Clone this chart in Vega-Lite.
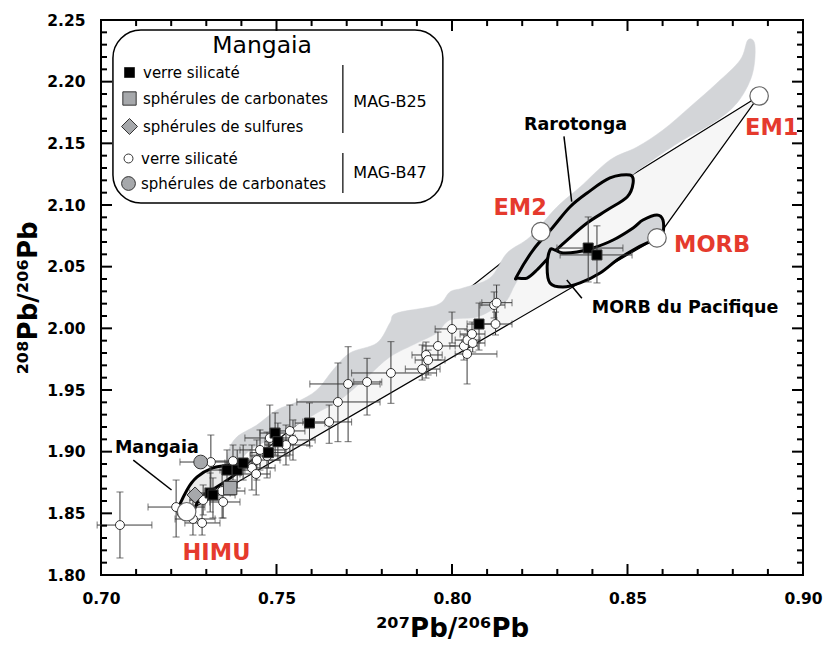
{
  "$schema": "https://vega.github.io/schema/vega-lite/v6.json",
  "width": 702,
  "height": 555,
  "autosize": {"type": "none"},
  "padding": {"left": 101, "top": 20, "right": 23, "bottom": 70},
  "background": "white",
  "config": {
    "view": {"stroke": "black", "strokeWidth": 2},
    "font": "DejaVu Sans",
    "axis": {"domain": false, "grid": false, "ticks": false}
  },
  "datasets": {
    "ticks_x": [
      {"x": 0.75, "y": 1.8, "y2": 1.8089}, {"x": 0.8, "y": 1.8, "y2": 1.8089}, {"x": 0.85, "y": 1.8, "y2": 1.8089},
      {"x": 0.75, "y": 2.25, "y2": 2.2411}, {"x": 0.8, "y": 2.25, "y2": 2.2411}, {"x": 0.85, "y": 2.25, "y2": 2.2411},
      {"x": 0.71, "y": 1.8, "y2": 1.8049}, {"x": 0.72, "y": 1.8, "y2": 1.8049}, {"x": 0.73, "y": 1.8, "y2": 1.8049}, {"x": 0.74, "y": 1.8, "y2": 1.8049},
      {"x": 0.76, "y": 1.8, "y2": 1.8049}, {"x": 0.77, "y": 1.8, "y2": 1.8049}, {"x": 0.78, "y": 1.8, "y2": 1.8049}, {"x": 0.79, "y": 1.8, "y2": 1.8049},
      {"x": 0.81, "y": 1.8, "y2": 1.8049}, {"x": 0.82, "y": 1.8, "y2": 1.8049}, {"x": 0.83, "y": 1.8, "y2": 1.8049}, {"x": 0.84, "y": 1.8, "y2": 1.8049},
      {"x": 0.86, "y": 1.8, "y2": 1.8049}, {"x": 0.87, "y": 1.8, "y2": 1.8049}, {"x": 0.88, "y": 1.8, "y2": 1.8049}, {"x": 0.89, "y": 1.8, "y2": 1.8049},
      {"x": 0.71, "y": 2.25, "y2": 2.2451}, {"x": 0.72, "y": 2.25, "y2": 2.2451}, {"x": 0.73, "y": 2.25, "y2": 2.2451}, {"x": 0.74, "y": 2.25, "y2": 2.2451},
      {"x": 0.76, "y": 2.25, "y2": 2.2451}, {"x": 0.77, "y": 2.25, "y2": 2.2451}, {"x": 0.78, "y": 2.25, "y2": 2.2451}, {"x": 0.79, "y": 2.25, "y2": 2.2451},
      {"x": 0.81, "y": 2.25, "y2": 2.2451}, {"x": 0.82, "y": 2.25, "y2": 2.2451}, {"x": 0.83, "y": 2.25, "y2": 2.2451}, {"x": 0.84, "y": 2.25, "y2": 2.2451},
      {"x": 0.86, "y": 2.25, "y2": 2.2451}, {"x": 0.87, "y": 2.25, "y2": 2.2451}, {"x": 0.88, "y": 2.25, "y2": 2.2451}, {"x": 0.89, "y": 2.25, "y2": 2.2451}
    ],
    "ticks_y": [
      {"y": 1.85, "x": 0.7, "x2": 0.70313}, {"y": 1.9, "x": 0.7, "x2": 0.70313}, {"y": 1.95, "x": 0.7, "x2": 0.70313}, {"y": 2.0, "x": 0.7, "x2": 0.70313},
      {"y": 2.05, "x": 0.7, "x2": 0.70313}, {"y": 2.1, "x": 0.7, "x2": 0.70313}, {"y": 2.15, "x": 0.7, "x2": 0.70313}, {"y": 2.2, "x": 0.7, "x2": 0.70313},
      {"y": 1.85, "x": 0.9, "x2": 0.89687}, {"y": 1.9, "x": 0.9, "x2": 0.89687}, {"y": 1.95, "x": 0.9, "x2": 0.89687}, {"y": 2.0, "x": 0.9, "x2": 0.89687},
      {"y": 2.05, "x": 0.9, "x2": 0.89687}, {"y": 2.1, "x": 0.9, "x2": 0.89687}, {"y": 2.15, "x": 0.9, "x2": 0.89687}, {"y": 2.2, "x": 0.9, "x2": 0.89687},
      {"y": 1.81, "x": 0.7, "x2": 0.70171}, {"y": 1.82, "x": 0.7, "x2": 0.70171}, {"y": 1.83, "x": 0.7, "x2": 0.70171}, {"y": 1.84, "x": 0.7, "x2": 0.70171},
      {"y": 1.86, "x": 0.7, "x2": 0.70171}, {"y": 1.87, "x": 0.7, "x2": 0.70171}, {"y": 1.88, "x": 0.7, "x2": 0.70171}, {"y": 1.89, "x": 0.7, "x2": 0.70171},
      {"y": 1.91, "x": 0.7, "x2": 0.70171}, {"y": 1.92, "x": 0.7, "x2": 0.70171}, {"y": 1.93, "x": 0.7, "x2": 0.70171}, {"y": 1.94, "x": 0.7, "x2": 0.70171},
      {"y": 1.96, "x": 0.7, "x2": 0.70171}, {"y": 1.97, "x": 0.7, "x2": 0.70171}, {"y": 1.98, "x": 0.7, "x2": 0.70171}, {"y": 1.99, "x": 0.7, "x2": 0.70171},
      {"y": 2.01, "x": 0.7, "x2": 0.70171}, {"y": 2.02, "x": 0.7, "x2": 0.70171}, {"y": 2.03, "x": 0.7, "x2": 0.70171}, {"y": 2.04, "x": 0.7, "x2": 0.70171},
      {"y": 2.06, "x": 0.7, "x2": 0.70171}, {"y": 2.07, "x": 0.7, "x2": 0.70171}, {"y": 2.08, "x": 0.7, "x2": 0.70171}, {"y": 2.09, "x": 0.7, "x2": 0.70171},
      {"y": 2.11, "x": 0.7, "x2": 0.70171}, {"y": 2.12, "x": 0.7, "x2": 0.70171}, {"y": 2.13, "x": 0.7, "x2": 0.70171}, {"y": 2.14, "x": 0.7, "x2": 0.70171},
      {"y": 2.16, "x": 0.7, "x2": 0.70171}, {"y": 2.17, "x": 0.7, "x2": 0.70171}, {"y": 2.18, "x": 0.7, "x2": 0.70171}, {"y": 2.19, "x": 0.7, "x2": 0.70171},
      {"y": 2.21, "x": 0.7, "x2": 0.70171}, {"y": 2.22, "x": 0.7, "x2": 0.70171}, {"y": 2.23, "x": 0.7, "x2": 0.70171}, {"y": 2.24, "x": 0.7, "x2": 0.70171},
      {"y": 1.81, "x": 0.9, "x2": 0.89829}, {"y": 1.82, "x": 0.9, "x2": 0.89829}, {"y": 1.83, "x": 0.9, "x2": 0.89829}, {"y": 1.84, "x": 0.9, "x2": 0.89829},
      {"y": 1.86, "x": 0.9, "x2": 0.89829}, {"y": 1.87, "x": 0.9, "x2": 0.89829}, {"y": 1.88, "x": 0.9, "x2": 0.89829}, {"y": 1.89, "x": 0.9, "x2": 0.89829},
      {"y": 1.91, "x": 0.9, "x2": 0.89829}, {"y": 1.92, "x": 0.9, "x2": 0.89829}, {"y": 1.93, "x": 0.9, "x2": 0.89829}, {"y": 1.94, "x": 0.9, "x2": 0.89829},
      {"y": 1.96, "x": 0.9, "x2": 0.89829}, {"y": 1.97, "x": 0.9, "x2": 0.89829}, {"y": 1.98, "x": 0.9, "x2": 0.89829}, {"y": 1.99, "x": 0.9, "x2": 0.89829},
      {"y": 2.01, "x": 0.9, "x2": 0.89829}, {"y": 2.02, "x": 0.9, "x2": 0.89829}, {"y": 2.03, "x": 0.9, "x2": 0.89829}, {"y": 2.04, "x": 0.9, "x2": 0.89829},
      {"y": 2.06, "x": 0.9, "x2": 0.89829}, {"y": 2.07, "x": 0.9, "x2": 0.89829}, {"y": 2.08, "x": 0.9, "x2": 0.89829}, {"y": 2.09, "x": 0.9, "x2": 0.89829},
      {"y": 2.11, "x": 0.9, "x2": 0.89829}, {"y": 2.12, "x": 0.9, "x2": 0.89829}, {"y": 2.13, "x": 0.9, "x2": 0.89829}, {"y": 2.14, "x": 0.9, "x2": 0.89829},
      {"y": 2.16, "x": 0.9, "x2": 0.89829}, {"y": 2.17, "x": 0.9, "x2": 0.89829}, {"y": 2.18, "x": 0.9, "x2": 0.89829}, {"y": 2.19, "x": 0.9, "x2": 0.89829},
      {"y": 2.21, "x": 0.9, "x2": 0.89829}, {"y": 2.22, "x": 0.9, "x2": 0.89829}, {"y": 2.23, "x": 0.9, "x2": 0.89829}, {"y": 2.24, "x": 0.9, "x2": 0.89829}
    ],
    "triangle": [
      {"i": 1, "x": 0.7244, "y": 1.8513},
      {"i": 2, "x": 0.8253, "y": 2.0784},
      {"i": 3, "x": 0.8875, "y": 2.1884},
      {"i": 4, "x": 0.8584, "y": 2.0733}
    ],
    "bande": [
      {"i": 1, "x": 0.7362, "y": 1.8997}, {"i": 2, "x": 0.7387, "y": 1.9119}, {"i": 3, "x": 0.7444, "y": 1.9216},
      {"i": 4, "x": 0.7501, "y": 1.9338}, {"i": 5, "x": 0.7558, "y": 1.9403}, {"i": 6, "x": 0.7615, "y": 1.95},
      {"i": 7, "x": 0.7661, "y": 1.9662}, {"i": 8, "x": 0.7709, "y": 1.98}, {"i": 9, "x": 0.7786, "y": 1.9881},
      {"i": 10, "x": 0.7823, "y": 2.0043}, {"i": 11, "x": 0.7843, "y": 2.0124}, {"i": 12, "x": 0.7957, "y": 2.0189},
      {"i": 13, "x": 0.7994, "y": 2.0295}, {"i": 14, "x": 0.8031, "y": 2.0327}, {"i": 15, "x": 0.8108, "y": 2.0408},
      {"i": 16, "x": 0.8157, "y": 2.0611}, {"i": 17, "x": 0.8222, "y": 2.0741}, {"i": 18, "x": 0.8299, "y": 2.0984},
      {"i": 19, "x": 0.8365, "y": 2.1146}, {"i": 20, "x": 0.845, "y": 2.1365}, {"i": 21, "x": 0.8527, "y": 2.147},
      {"i": 22, "x": 0.8601, "y": 2.1608}, {"i": 23, "x": 0.8678, "y": 2.1795}, {"i": 24, "x": 0.8755, "y": 2.1989},
      {"i": 25, "x": 0.8821, "y": 2.2176}, {"i": 26, "x": 0.8843, "y": 2.2338}, {"i": 27, "x": 0.8863, "y": 2.2297},
      {"i": 28, "x": 0.8855, "y": 2.2054}, {"i": 29, "x": 0.8812, "y": 2.1827}, {"i": 30, "x": 0.8744, "y": 2.1665},
      {"i": 31, "x": 0.8658, "y": 2.1527}, {"i": 32, "x": 0.8564, "y": 2.1349}, {"i": 33, "x": 0.8507, "y": 2.1219},
      {"i": 34, "x": 0.8479, "y": 2.1041}, {"i": 35, "x": 0.8393, "y": 2.0862}, {"i": 36, "x": 0.8322, "y": 2.0716},
      {"i": 37, "x": 0.8265, "y": 2.0595}, {"i": 38, "x": 0.8208, "y": 2.0473}, {"i": 39, "x": 0.8179, "y": 2.0351},
      {"i": 40, "x": 0.8157, "y": 2.023}, {"i": 41, "x": 0.8128, "y": 2.0173}, {"i": 42, "x": 0.8071, "y": 2.0092},
      {"i": 43, "x": 0.7994, "y": 2.0068}, {"i": 44, "x": 0.7957, "y": 1.9962}, {"i": 45, "x": 0.79, "y": 1.9881},
      {"i": 46, "x": 0.7823, "y": 1.9768}, {"i": 47, "x": 0.7758, "y": 1.9605}, {"i": 48, "x": 0.7681, "y": 1.9419},
      {"i": 49, "x": 0.7615, "y": 1.9314}, {"i": 50, "x": 0.7519, "y": 1.9151}, {"i": 51, "x": 0.7425, "y": 1.9014},
      {"i": 52, "x": 0.7387, "y": 1.8876}, {"i": 53, "x": 0.7362, "y": 1.8851}
    ],
    "rarotonga": [
      {"i": 1, "x": 0.8184, "y": 2.0419}, {"i": 2, "x": 0.8231, "y": 2.0635}, {"i": 3, "x": 0.8288, "y": 2.0822},
      {"i": 4, "x": 0.8336, "y": 2.0984}, {"i": 5, "x": 0.8385, "y": 2.1097}, {"i": 6, "x": 0.845, "y": 2.1219},
      {"i": 7, "x": 0.8507, "y": 2.1243}, {"i": 8, "x": 0.8516, "y": 2.1178}, {"i": 9, "x": 0.8499, "y": 2.1065},
      {"i": 10, "x": 0.8442, "y": 2.0959}, {"i": 11, "x": 0.8385, "y": 2.0854}, {"i": 12, "x": 0.8328, "y": 2.0716},
      {"i": 13, "x": 0.8288, "y": 2.0611}, {"i": 14, "x": 0.8242, "y": 2.0473}, {"i": 15, "x": 0.8214, "y": 2.0408},
      {"i": 16, "x": 0.8188, "y": 2.0408}
    ],
    "morb_pacifique": [
      {"i": 1, "x": 0.8279, "y": 2.0635}, {"i": 2, "x": 0.8271, "y": 2.0497}, {"i": 3, "x": 0.8279, "y": 2.0368},
      {"i": 4, "x": 0.8316, "y": 2.0335}, {"i": 5, "x": 0.8365, "y": 2.0368}, {"i": 6, "x": 0.8422, "y": 2.0449},
      {"i": 7, "x": 0.847, "y": 2.0554}, {"i": 8, "x": 0.8516, "y": 2.0635}, {"i": 9, "x": 0.8556, "y": 2.0692},
      {"i": 10, "x": 0.8584, "y": 2.0716}, {"i": 11, "x": 0.8601, "y": 2.0773}, {"i": 12, "x": 0.8601, "y": 2.0878},
      {"i": 13, "x": 0.8584, "y": 2.0919}, {"i": 14, "x": 0.8544, "y": 2.0878}, {"i": 15, "x": 0.8516, "y": 2.0814},
      {"i": 16, "x": 0.8459, "y": 2.0716}, {"i": 17, "x": 0.8402, "y": 2.0651}, {"i": 18, "x": 0.8356, "y": 2.0619},
      {"i": 19, "x": 0.8316, "y": 2.0611}, {"i": 20, "x": 0.8293, "y": 2.0635}
    ],
    "mangaia": [
      {"i": 1, "x": 0.7219, "y": 1.8511}, {"i": 2, "x": 0.7245, "y": 1.8689}, {"i": 3, "x": 0.7274, "y": 1.8795},
      {"i": 4, "x": 0.7319, "y": 1.8868}, {"i": 5, "x": 0.7368, "y": 1.8892}, {"i": 6, "x": 0.7405, "y": 1.8916},
      {"i": 7, "x": 0.7387, "y": 1.8827}, {"i": 8, "x": 0.733, "y": 1.8714}, {"i": 9, "x": 0.7282, "y": 1.8624},
      {"i": 10, "x": 0.7262, "y": 1.8503}, {"i": 11, "x": 0.7245, "y": 1.847}
    ],
    "traits": [
      {"x": 0.8319, "y": 2.1557, "x2": 0.8341, "y2": 2.1027},
      {"x": 0.8327, "y": 2.0392, "x2": 0.837, "y2": 2.0244},
      {"x": 0.7092, "y": 1.8932, "x2": 0.7201, "y2": 1.8689}
    ],
    "encadre": [
      {"x": 0.7034, "x2": 0.7974, "y": 2.2419, "y2": 2.1016}
    ],
    "accolades": [
      {"x": 0.7689, "y": 2.2135, "y2": 2.1584},
      {"x": 0.7689, "y": 2.1422, "y2": 2.1097}
    ],
    "titre_legende": [
      {"texte": "Mangaia", "x": 0.7459, "y": 2.223}
    ],
    "echantillons": [
      {"texte": "MAG-B25", "x": 0.7719, "y": 2.1797},
      {"texte": "MAG-B47", "x": 0.7719, "y": 2.1217}
    ],
    "mesures": [
      {"groupe": "MAG-B47", "type": "verre silicaté", "x": 0.7054, "y": 1.8405, "xmin": 0.6989, "xmax": 0.7145, "ymin": 1.8138, "ymax": 1.8673},
      {"groupe": "MAG-B47", "type": "verre silicaté", "x": 0.7214, "y": 1.8551, "xmin": 0.7134, "xmax": 0.7296, "ymin": 1.8308, "ymax": 1.877},
      {"groupe": "MAG-B47", "type": "verre silicaté", "x": 0.7262, "y": 1.8454, "xmin": 0.7211, "xmax": 0.7325, "ymin": 1.8324, "ymax": 1.8608},
      {"groupe": "MAG-B47", "type": "verre silicaté", "x": 0.7288, "y": 1.8422, "xmin": 0.7239, "xmax": 0.7339, "ymin": 1.8324, "ymax": 1.8568},
      {"groupe": "MAG-B47", "type": "verre silicaté", "x": 0.7313, "y": 1.8916, "xmin": 0.7225, "xmax": 0.7396, "ymin": 1.8689, "ymax": 1.9135},
      {"groupe": "MAG-B47", "type": "verre silicaté", "x": 0.7345, "y": 1.8681, "xmin": 0.7296, "xmax": 0.741, "ymin": 1.8462, "ymax": 1.8851},
      {"groupe": "MAG-B47", "type": "verre silicaté", "x": 0.7376, "y": 1.8924, "xmin": 0.731, "xmax": 0.7439, "ymin": 1.877, "ymax": 1.9054},
      {"groupe": "MAG-B47", "type": "verre silicaté", "x": 0.743, "y": 1.8868, "xmin": 0.7368, "xmax": 0.7496, "ymin": 1.8689, "ymax": 1.9054},
      {"groupe": "MAG-B47", "type": "verre silicaté", "x": 0.7442, "y": 1.8819, "xmin": 0.7396, "xmax": 0.7482, "ymin": 1.8649, "ymax": 1.8973},
      {"groupe": "MAG-B47", "type": "verre silicaté", "x": 0.7444, "y": 1.8932, "xmin": 0.7382, "xmax": 0.751, "ymin": 1.877, "ymax": 1.9095},
      {"groupe": "MAG-B47", "type": "verre silicaté", "x": 0.7453, "y": 1.9014, "xmin": 0.7396, "xmax": 0.7524, "ymin": 1.8851, "ymax": 1.9176},
      {"groupe": "MAG-B47", "type": "verre silicaté", "x": 0.7473, "y": 1.8965, "xmin": 0.7425, "xmax": 0.7538, "ymin": 1.8787, "ymax": 1.9159},
      {"groupe": "MAG-B47", "type": "verre silicaté", "x": 0.7481, "y": 1.9111, "xmin": 0.741, "xmax": 0.7553, "ymin": 1.8932, "ymax": 1.9378},
      {"groupe": "MAG-B47", "type": "verre silicaté", "x": 0.7527, "y": 1.9054, "xmin": 0.7467, "xmax": 0.7595, "ymin": 1.8892, "ymax": 1.9216},
      {"groupe": "MAG-B47", "type": "verre silicaté", "x": 0.7538, "y": 1.9168, "xmin": 0.7496, "xmax": 0.7581, "ymin": 1.8973, "ymax": 1.9378},
      {"groupe": "MAG-B47", "type": "verre silicaté", "x": 0.7547, "y": 1.9095, "xmin": 0.7496, "xmax": 0.761, "ymin": 1.8932, "ymax": 1.9257},
      {"groupe": "MAG-B47", "type": "verre silicaté", "x": 0.765, "y": 1.9241, "xmin": 0.7575, "xmax": 0.7714, "ymin": 1.9068, "ymax": 1.9378},
      {"groupe": "MAG-B47", "type": "verre silicaté", "x": 0.7675, "y": 1.9403, "xmin": 0.7558, "xmax": 0.7795, "ymin": 1.9081, "ymax": 1.9719},
      {"groupe": "MAG-B47", "type": "verre silicaté", "x": 0.7704, "y": 1.9549, "xmin": 0.7595, "xmax": 0.7795, "ymin": 1.9081, "ymax": 1.9851},
      {"groupe": "MAG-B47", "type": "verre silicaté", "x": 0.7758, "y": 1.9565, "xmin": 0.772, "xmax": 0.78, "ymin": 1.9297, "ymax": 1.9757},
      {"groupe": "MAG-B47", "type": "verre silicaté", "x": 0.7826, "y": 1.9638, "xmin": 0.7714, "xmax": 0.7956, "ymin": 1.9392, "ymax": 1.9892},
      {"groupe": "MAG-B47", "type": "verre silicaté", "x": 0.7915, "y": 1.967, "xmin": 0.7867, "xmax": 0.7966, "ymin": 1.9581, "ymax": 1.9865},
      {"groupe": "MAG-B47", "type": "verre silicaté", "x": 0.7926, "y": 1.9784, "xmin": 0.7886, "xmax": 0.7972, "ymin": 1.9597, "ymax": 1.9889},
      {"groupe": "MAG-B47", "type": "verre silicaté", "x": 0.7932, "y": 1.9743, "xmin": 0.7895, "xmax": 0.798, "ymin": 1.9622, "ymax": 1.9824},
      {"groupe": "MAG-B47", "type": "verre silicaté", "x": 0.796, "y": 1.9857, "xmin": 0.7917, "xmax": 0.8009, "ymin": 1.9743, "ymax": 1.997},
      {"groupe": "MAG-B47", "type": "verre silicaté", "x": 0.8, "y": 1.9995, "xmin": 0.7952, "xmax": 0.8043, "ymin": 1.9881, "ymax": 2.0132},
      {"groupe": "MAG-B47", "type": "verre silicaté", "x": 0.8034, "y": 1.9857, "xmin": 0.7994, "xmax": 0.8074, "ymin": 1.9743, "ymax": 1.9946},
      {"groupe": "MAG-B47", "type": "verre silicaté", "x": 0.8043, "y": 1.9792, "xmin": 0.8009, "xmax": 0.8128, "ymin": 1.9549, "ymax": 1.9905},
      {"groupe": "MAG-B47", "type": "verre silicaté", "x": 0.8044, "y": 1.9905, "xmin": 0.8009, "xmax": 0.808, "ymin": 1.9824, "ymax": 1.9987},
      {"groupe": "MAG-B47", "type": "verre silicaté", "x": 0.8057, "y": 1.9954, "xmin": 0.8023, "xmax": 0.8094, "ymin": 1.9865, "ymax": 2.0051},
      {"groupe": "MAG-B47", "type": "verre silicaté", "x": 0.8059, "y": 1.9881, "xmin": 0.8028, "xmax": 0.8094, "ymin": 1.9808, "ymax": 1.9946},
      {"groupe": "MAG-B47", "type": "verre silicaté", "x": 0.8124, "y": 2.0035, "xmin": 0.8088, "xmax": 0.8171, "ymin": 1.9946, "ymax": 2.0132},
      {"groupe": "MAG-B47", "type": "verre silicaté", "x": 0.812, "y": 2.0189, "xmin": 0.808, "xmax": 0.8151, "ymin": 2.0084, "ymax": 2.0295},
      {"groupe": "MAG-B47", "type": "verre silicaté", "x": 0.8127, "y": 2.0208, "xmin": 0.8085, "xmax": 0.8171, "ymin": 2.0051, "ymax": 2.0351},
      {"groupe": "MAG-B47", "type": "verre silicaté", "x": 0.7348, "y": 1.8592, "xmin": 0.731, "xmax": 0.7396, "ymin": 1.8462, "ymax": 1.8705},
      {"groupe": "MAG-B47", "type": "verre silicaté", "x": 0.7291, "y": 1.8608, "xmin": 0.7253, "xmax": 0.7339, "ymin": 1.8487, "ymax": 1.873},
      {"groupe": "MAG-B47", "type": "sphérules de carbonates", "x": 0.7284, "y": 1.8916},
      {"groupe": "MAG-B25", "type": "verre silicaté", "x": 0.7311, "y": 1.8665, "xmin": 0.7253, "xmax": 0.7368, "ymin": 1.8511, "ymax": 1.8827},
      {"groupe": "MAG-B25", "type": "verre silicaté", "x": 0.7319, "y": 1.8649, "xmin": 0.7268, "xmax": 0.7382, "ymin": 1.8462, "ymax": 1.8787},
      {"groupe": "MAG-B25", "type": "verre silicaté", "x": 0.7359, "y": 1.8851, "xmin": 0.731, "xmax": 0.741, "ymin": 1.8689, "ymax": 1.9014},
      {"groupe": "MAG-B25", "type": "verre silicaté", "x": 0.7388, "y": 1.8851, "xmin": 0.7339, "xmax": 0.7439, "ymin": 1.8705, "ymax": 1.9014},
      {"groupe": "MAG-B25", "type": "verre silicaté", "x": 0.7405, "y": 1.8908, "xmin": 0.7353, "xmax": 0.7453, "ymin": 1.877, "ymax": 1.9054},
      {"groupe": "MAG-B25", "type": "verre silicaté", "x": 0.7477, "y": 1.8992, "xmin": 0.7425, "xmax": 0.7524, "ymin": 1.8868, "ymax": 1.9119},
      {"groupe": "MAG-B25", "type": "verre silicaté", "x": 0.7496, "y": 1.9151, "xmin": 0.7453, "xmax": 0.7538, "ymin": 1.8973, "ymax": 1.9314},
      {"groupe": "MAG-B25", "type": "verre silicaté", "x": 0.7504, "y": 1.9081, "xmin": 0.7467, "xmax": 0.7553, "ymin": 1.8932, "ymax": 1.9232},
      {"groupe": "MAG-B25", "type": "verre silicaté", "x": 0.7594, "y": 1.9232, "xmin": 0.7553, "xmax": 0.7638, "ymin": 1.9046, "ymax": 1.9395},
      {"groupe": "MAG-B25", "type": "verre silicaté", "x": 0.8077, "y": 2.0035, "xmin": 0.8043, "xmax": 0.8128, "ymin": 1.9824, "ymax": 2.0205},
      {"groupe": "MAG-B25", "type": "verre silicaté", "x": 0.8388, "y": 2.0651, "xmin": 0.8299, "xmax": 0.8487, "ymin": 2.0376, "ymax": 2.0903},
      {"groupe": "MAG-B25", "type": "verre silicaté", "x": 0.8413, "y": 2.0595, "xmin": 0.8308, "xmax": 0.8513, "ymin": 2.0368, "ymax": 2.0831},
      {"groupe": "MAG-B25", "type": "sphérules de carbonates", "x": 0.7368, "y": 1.8705},
      {"groupe": "MAG-B25", "type": "sphérules de sulfures", "x": 0.7268, "y": 1.8649}
    ],
    "poles": [
      {"nom": "HIMU", "x": 0.7244, "y": 1.8513},
      {"nom": "EM2", "x": 0.8253, "y": 2.0784},
      {"nom": "EM1", "x": 0.8875, "y": 2.1884},
      {"nom": "MORB", "x": 0.8584, "y": 2.0733}
    ],
    "noms_poles": [
      {"nom": "HIMU", "x": 0.7329, "y": 1.8122},
      {"nom": "EM2", "x": 0.8194, "y": 2.0919},
      {"nom": "EM1", "x": 0.8911, "y": 2.1568},
      {"nom": "MORB", "x": 0.8741, "y": 2.0617}
    ],
    "noms_champs": [
      {"nom": "Rarotonga", "x": 0.8352, "y": 2.1608},
      {"nom": "MORB du Pacifique", "x": 0.8664, "y": 2.0122},
      {"nom": "Mangaia", "x": 0.7159, "y": 1.8987}
    ]
  },
  "encoding": {
    "x": {"field": "x", "type": "quantitative", "scale": {"domain": [0.7, 0.9], "nice": false, "zero": false}, "axis": null},
    "y": {"field": "y", "type": "quantitative", "scale": {"domain": [1.8, 2.25], "nice": false, "zero": false}, "axis": null}
  },
  "layer": [
    {
      "data": {"name": "triangle"},
      "mark": {"type": "line", "interpolate": "linear-closed", "fill": "#f6f6f6", "stroke": "black", "strokeWidth": 1.2},
      "encoding": {
        "order": {"field": "i", "type": "quantitative"},
        "x": {"field": "x", "type": "quantitative", "scale": {"domain": [0.7, 0.9], "nice": false, "zero": false},
          "axis": {"orient": "bottom", "values": [0.7, 0.75, 0.8, 0.85, 0.9], "format": ".2f", "domain": false, "ticks": false, "grid": false,
            "labelFont": "DejaVu Sans", "labelFontWeight": "bold",
            "labelFontSize": 15.5, "labelColor": "black", "labelPadding": 16, "labelFlush": false, "labelOverlap": false,
            "title": "²⁰⁷Pb/²⁰⁶Pb", "titleFont": "DejaVu Sans", "titleFontWeight": "bold", "titleFontSize": 26, "titleColor": "black", "titlePadding": 9}},
        "y": {"field": "y", "type": "quantitative", "scale": {"domain": [1.8, 2.25], "nice": false, "zero": false},
          "axis": {"orient": "left", "values": [1.8, 1.85, 1.9, 1.95, 2.0, 2.05, 2.1, 2.15, 2.2, 2.25], "format": ".2f", "domain": false, "ticks": false, "grid": false,
            "labelFont": "DejaVu Sans", "labelFontWeight": "bold",
            "labelFontSize": 15.5, "labelColor": "black", "labelPadding": 16, "labelFlush": false, "labelOverlap": false,
            "title": "²⁰⁸Pb/²⁰⁶Pb", "titleFont": "DejaVu Sans", "titleFontWeight": "bold", "titleFontSize": 26, "titleColor": "black", "titlePadding": 5}}
      }
    },
    {
      "data": {"name": "bande"},
      "mark": {"type": "line", "interpolate": "cardinal-closed", "fill": "#d3d5d8", "stroke": "#d3d5d8", "strokeWidth": 0.5},
      "encoding": {"order": {"field": "i", "type": "quantitative"}}
    },
    {
      "data": {"name": "rarotonga"},
      "mark": {"type": "line", "interpolate": "cardinal-closed", "fill": "#d3d5d8", "stroke": "black", "strokeWidth": 3},
      "encoding": {"order": {"field": "i", "type": "quantitative"}}
    },
    {
      "data": {"name": "morb_pacifique"},
      "mark": {"type": "line", "interpolate": "cardinal-closed", "fill": "#d3d5d8", "stroke": "black", "strokeWidth": 3},
      "encoding": {"order": {"field": "i", "type": "quantitative"}}
    },
    {
      "data": {"name": "mangaia"},
      "mark": {"type": "line", "interpolate": "cardinal-closed", "fill": "#ebebeb", "stroke": "black", "strokeWidth": 3},
      "encoding": {"order": {"field": "i", "type": "quantitative"}}
    },
    {
      "data": {"name": "traits"},
      "mark": {"type": "rule", "color": "black", "strokeWidth": 1.5},
      "encoding": {"x2": {"field": "x2"}, "y2": {"field": "y2"}}
    },
    {
      "data": {"name": "mesures"},
      "transform": [{"filter": "isValid(datum.xmin)"}],
      "mark": {"type": "rule", "color": "#3a3a3a", "strokeWidth": 1},
      "encoding": {
        "x": {"field": "xmin", "type": "quantitative", "scale": {"domain": [0.7, 0.9], "nice": false, "zero": false}, "axis": null},
        "x2": {"field": "xmax"}
      }
    },
    {
      "data": {"name": "mesures"},
      "transform": [{"filter": "isValid(datum.ymin)"}],
      "mark": {"type": "rule", "color": "#3a3a3a", "strokeWidth": 1},
      "encoding": {
        "y": {"field": "ymin", "type": "quantitative", "scale": {"domain": [1.8, 2.25], "nice": false, "zero": false}, "axis": null},
        "y2": {"field": "ymax"}
      }
    },
    {
      "data": {"name": "mesures"},
      "transform": [{"filter": "isValid(datum.xmin)"}],
      "mark": {"type": "tick", "orient": "vertical", "color": "#3a3a3a", "size": 7, "thickness": 1},
      "encoding": {"x": {"field": "xmin", "type": "quantitative", "scale": {"domain": [0.7, 0.9], "nice": false, "zero": false}, "axis": null}}
    },
    {
      "data": {"name": "mesures"},
      "transform": [{"filter": "isValid(datum.xmax)"}],
      "mark": {"type": "tick", "orient": "vertical", "color": "#3a3a3a", "size": 7, "thickness": 1},
      "encoding": {"x": {"field": "xmax", "type": "quantitative", "scale": {"domain": [0.7, 0.9], "nice": false, "zero": false}, "axis": null}}
    },
    {
      "data": {"name": "mesures"},
      "transform": [{"filter": "isValid(datum.ymin)"}],
      "mark": {"type": "tick", "orient": "horizontal", "color": "#3a3a3a", "size": 7, "thickness": 1},
      "encoding": {"y": {"field": "ymin", "type": "quantitative", "scale": {"domain": [1.8, 2.25], "nice": false, "zero": false}, "axis": null}}
    },
    {
      "data": {"name": "mesures"},
      "transform": [{"filter": "isValid(datum.ymax)"}],
      "mark": {"type": "tick", "orient": "horizontal", "color": "#3a3a3a", "size": 7, "thickness": 1},
      "encoding": {"y": {"field": "ymax", "type": "quantitative", "scale": {"domain": [1.8, 2.25], "nice": false, "zero": false}, "axis": null}}
    },
    {
      "data": {"name": "encadre"},
      "mark": {"type": "rect", "fill": "white", "stroke": "black", "strokeWidth": 1.5, "cornerRadius": 28},
      "encoding": {"x2": {"field": "x2"}, "y2": {"field": "y2"}}
    },
    {
      "data": {"name": "accolades"},
      "mark": {"type": "rule", "color": "#333333", "strokeWidth": 1.5},
      "encoding": {"y2": {"field": "y2"}}
    },
    {
      "data": {"name": "titre_legende"},
      "mark": {"type": "text", "font": "DejaVu Sans", "fontSize": 23.5, "color": "black", "align": "center", "baseline": "alphabetic"},
      "encoding": {"text": {"field": "texte"}}
    },
    {
      "data": {"name": "echantillons"},
      "mark": {"type": "text", "font": "DejaVu Sans", "fontSize": 16, "color": "black", "align": "left", "baseline": "alphabetic"},
      "encoding": {"text": {"field": "texte"}}
    },
    {
      "data": {"name": "mesures"},
      "transform": [{"filter": "datum.groupe == 'MAG-B47'"}],
      "mark": {"type": "point", "filled": true, "stroke": "#333333", "strokeWidth": 1, "opacity": 1},
      "encoding": {
        "shape": {"field": "type", "type": "nominal", "scale": {"domain": ["verre silicaté", "sphérules de carbonates"], "range": ["circle", "circle"]},
          "legend": {"orient": "none", "legendX": 20, "legendY": 131, "title": null, "padding": 0, "labelFont": "DejaVu Sans", "labelFontSize": 15, "labelColor": "black", "labelLimit": 400, "rowPadding": 7, "labelOffset": 5, "symbolStrokeColor": "#333333", "symbolStrokeWidth": 1}},
        "color": {"field": "type", "type": "nominal", "scale": {"domain": ["verre silicaté", "sphérules de carbonates"], "range": ["#ffffff", "#a6a8ab"]},
          "legend": {"orient": "none", "legendX": 20, "legendY": 131, "title": null, "padding": 0, "labelFont": "DejaVu Sans", "labelFontSize": 15, "labelColor": "black", "labelLimit": 400, "rowPadding": 7, "labelOffset": 5, "symbolStrokeColor": "#333333", "symbolStrokeWidth": 1}},
        "size": {"field": "type", "type": "nominal", "scale": {"domain": ["verre silicaté", "sphérules de carbonates"], "range": [80, 190]},
          "legend": {"orient": "none", "legendX": 20, "legendY": 131, "title": null, "padding": 0, "labelFont": "DejaVu Sans", "labelFontSize": 15, "labelColor": "black", "labelLimit": 400, "rowPadding": 7, "labelOffset": 5, "symbolStrokeColor": "#333333", "symbolStrokeWidth": 1}}
      }
    },
    {
      "data": {"name": "mesures"},
      "transform": [{"filter": "datum.groupe == 'MAG-B25'"}],
      "mark": {"type": "point", "filled": true, "stroke": "#333333", "strokeWidth": 1, "opacity": 1},
      "encoding": {
        "shape": {"field": "type", "type": "nominal", "scale": {"domain": ["verre silicaté", "sphérules de carbonates", "sphérules de sulfures"], "range": ["square", "square", "diamond"]},
          "legend": {"orient": "none", "legendX": 20, "legendY": 45, "title": null, "padding": 0, "labelFont": "DejaVu Sans", "labelFontSize": 15, "labelColor": "black", "labelLimit": 400, "rowPadding": 8, "labelOffset": 5, "symbolStrokeColor": "#333333", "symbolStrokeWidth": 1}},
        "color": {"field": "type", "type": "nominal", "scale": {"domain": ["verre silicaté", "sphérules de carbonates", "sphérules de sulfures"], "range": ["#000000", "#a6a8ab", "#a6a8ab"]},
          "legend": {"orient": "none", "legendX": 20, "legendY": 45, "title": null, "padding": 0, "labelFont": "DejaVu Sans", "labelFontSize": 15, "labelColor": "black", "labelLimit": 400, "rowPadding": 8, "labelOffset": 5, "symbolStrokeColor": "#333333", "symbolStrokeWidth": 1}},
        "size": {"field": "type", "type": "nominal", "scale": {"domain": ["verre silicaté", "sphérules de carbonates", "sphérules de sulfures"], "range": [100, 256, 200]},
          "legend": {"orient": "none", "legendX": 20, "legendY": 45, "title": null, "padding": 0, "labelFont": "DejaVu Sans", "labelFontSize": 15, "labelColor": "black", "labelLimit": 400, "rowPadding": 8, "labelOffset": 5, "symbolStrokeColor": "#333333", "symbolStrokeWidth": 1}}
      }
    },
    {
      "data": {"name": "poles"},
      "mark": {"type": "point", "shape": "circle", "filled": true, "fill": "white", "stroke": "#666666", "strokeWidth": 1.2, "size": 340, "opacity": 1}
    },
    {
      "data": {"name": "noms_poles"},
      "mark": {"type": "text", "font": "DejaVu Sans", "fontWeight": "bold", "fontSize": 22.5, "color": "#e53a2d", "align": "center", "baseline": "alphabetic"},
      "encoding": {"text": {"field": "nom"}}
    },
    {
      "data": {"name": "noms_champs"},
      "mark": {"type": "text", "font": "DejaVu Sans", "fontWeight": "bold", "fontSize": 17.5, "color": "black", "align": "center", "baseline": "alphabetic"},
      "encoding": {"text": {"field": "nom"}}
    },
    {
      "data": {"name": "ticks_x"},
      "mark": {"type": "rule", "color": "black", "strokeWidth": 2},
      "encoding": {"y2": {"field": "y2"}}
    },
    {
      "data": {"name": "ticks_y"},
      "mark": {"type": "rule", "color": "black", "strokeWidth": 2},
      "encoding": {"x2": {"field": "x2"}}
    }
  ],
  "resolve": {
    "axis": {"x": "independent", "y": "independent"},
    "scale": {"shape": "independent", "color": "independent", "size": "independent"},
    "legend": {"shape": "independent", "color": "independent", "size": "independent"}
  }
}
